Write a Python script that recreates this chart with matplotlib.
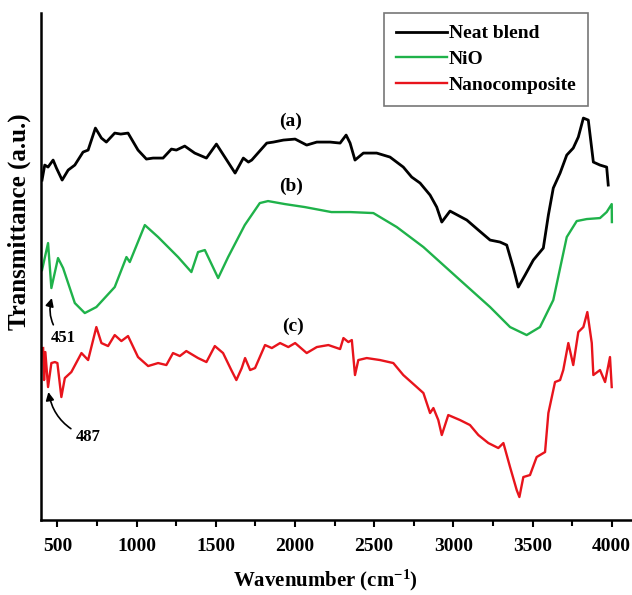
import matplotlib
matplotlib.use('Agg')
import matplotlib.pyplot as plt
from matplotlib.ticker import MultipleLocator

plt.rcParams['font.family'] = ['Liberation Serif', 'DejaVu Serif']
plt.rcParams['font.weight'] = 'bold'
plt.rcParams['mathtext.fontset'] = 'custom'
plt.rcParams['mathtext.rm'] = 'Liberation Serif:bold'
plt.rcParams['mathtext.it'] = 'Liberation Serif:bold'
plt.rcParams['mathtext.bf'] = 'Liberation Serif:bold'
plt.rcParams['mathtext.default'] = 'rm'

# FTIR spectra (wavenumber in cm-1, transmittance in a.u.)
blend_wn = [403, 420, 441, 473, 494, 530, 568, 610, 662, 694, 740, 778, 809, 862, 900, 946,
            1009, 1062, 1104, 1167, 1220, 1251, 1304, 1367, 1441, 1504, 1557, 1622, 1674, 1706,
            1727, 1822, 1864, 1927, 2001, 2074, 2138, 2222, 2285, 2323, 2348, 2379, 2432, 2516,
            2600, 2684, 2737, 2790, 2853, 2895, 2927, 2979, 3085, 3158, 3232, 3295, 3337, 3379,
            3410, 3453, 3505, 3568, 3600, 3631, 3674, 3716, 3757, 3789, 3821, 3852, 3884, 3926,
            3968, 3978]
blend_t = [340, 355, 353, 360, 352, 340, 350, 355, 368, 370, 392, 382, 378, 387, 386, 387,
           370, 361, 362, 362, 371, 370, 374, 367, 362, 376, 363, 347, 362, 358,
           360, 377, 378, 380, 381, 375, 378, 378, 377, 385, 377, 360, 367, 367,
           363, 353, 343, 337, 325, 313, 298, 309, 300, 290, 280, 278, 275, 252,
           233, 245, 260, 272, 305, 332, 347, 365, 372, 383, 402, 400, 358, 355,
           353, 335]

nio_wn = [403, 441, 462, 504, 536, 610, 673, 746, 862, 936, 957, 1052, 1136, 1262, 1346,
          1388, 1431, 1515, 1578, 1683, 1778, 1830, 1936, 2062, 2230, 2348, 2495, 2643, 2811,
          3021, 3232, 3358, 3463, 3547, 3631, 3716, 3779, 3842, 3926, 3968, 4000, 4001]
nio_t = [250, 277, 232, 262, 252, 217, 207, 213, 233, 263, 258, 295, 283, 263, 248,
         268, 270, 242, 263, 295, 317, 319, 316, 313, 308, 308, 307, 293, 273,
         243, 213, 193, 185, 193, 220, 283, 299, 301, 302, 308, 316, 298]

nano_wn = [410, 416, 424, 441, 462, 484, 500, 525, 547, 588, 652, 694, 746, 778, 820, 862,
           904, 946, 1009, 1073, 1136, 1188, 1230, 1273, 1314, 1388, 1441, 1494, 1546, 1598,
           1630, 1664, 1685, 1717, 1748, 1811, 1854, 1906, 1958, 2001, 2074, 2138, 2211, 2285,
           2306, 2337, 2359, 2379, 2400, 2453, 2537, 2621, 2684, 2769, 2811, 2853, 2874, 2905,
           2927, 2968, 3042, 3105, 3158, 3221, 3284, 3316, 3358, 3400, 3417, 3442, 3484, 3526,
           3579, 3600, 3642, 3674, 3694, 3726, 3757, 3789, 3821, 3846, 3874, 3884, 3926, 3958,
           3989, 4000]
nano_t = [172, 140, 168, 133, 157, 158, 157, 123, 142, 148, 167, 160, 193, 177, 174, 185,
          179, 184, 163, 154, 157, 155, 167, 164, 169, 162, 158, 174, 167, 150,
          140, 152, 162, 150, 152, 175, 172, 177, 173, 177, 167, 173, 175, 171,
          182, 178, 180, 145, 160, 162, 160, 157, 145, 133, 127, 107, 112, 100,
          85, 105, 100, 95, 85, 77, 72, 77, 53, 30, 23, 43, 45, 63,
          68, 107, 138, 140, 150, 177, 155, 188, 193, 208, 177, 145, 150, 138,
          163, 133]

labels = ['Neat blend', 'NiO', 'Nanocomposite']
colors = ['black', '#1fb24a', '#e8141c']

fig = plt.figure(figsize=(6.32, 5.95), dpi=100)
ax = fig.add_axes([0.065, 0.126, 0.935, 0.852])

ax.plot(blend_wn, blend_t, color=colors[0], lw=2.0, label=labels[0])
ax.plot(nio_wn, nio_t, color=colors[1], lw=1.7, label=labels[1])
ax.plot(nano_wn, nano_t, color=colors[2], lw=1.7, label=labels[2])

ax.set_xlim(397, 4128)
ax.set_ylim(0, 507)

for s in ['top', 'right']:
    ax.spines[s].set_visible(False)
for s in ['left', 'bottom']:
    ax.spines[s].set_linewidth(1.8)

ax.xaxis.set_major_locator(MultipleLocator(500))
ax.xaxis.set_minor_locator(MultipleLocator(250))
ax.tick_params(axis='x', which='major', direction='out', length=5, width=1.5,
               labelsize=14, pad=8)
ax.tick_params(axis='x', which='minor', direction='out', length=4, width=1.5)
ax.set_yticks([])

ax.set_xlabel('Wavenumber (cm$^{-1}$)', fontsize=15, fontweight='bold')
ax.xaxis.set_label_coords(0.482, -0.094)
ax.set_ylabel('Transmittance (a.u.)', fontsize=18, fontweight='bold')
ax.yaxis.set_label_coords(-0.017, 0.588)

ax.text(1975, 399, '(a)', fontsize=14, fontweight='bold', ha='center', va='center')
ax.text(1975, 334, '(b)', fontsize=14, fontweight='bold', ha='center', va='center')
ax.text(1985, 194, '(c)', fontsize=14, fontweight='bold', ha='center', va='center')

ax.annotate('451', xy=(465, 222), xytext=(536, 182), fontsize=12, fontweight='bold',
            ha='center', va='center',
            arrowprops=dict(arrowstyle='-|>', color='black', lw=1.2,
                            connectionstyle='arc3,rad=-0.3', shrinkB=0))
ax.annotate('487', xy=(443, 128), xytext=(696, 83), fontsize=12, fontweight='bold',
            ha='center', va='center',
            arrowprops=dict(arrowstyle='-|>', color='black', lw=1.2,
                            connectionstyle='arc3,rad=-0.3', shrinkB=0))

leg = ax.legend(loc='upper right', bbox_to_anchor=(0.9255, 1.0), borderaxespad=0,
                fontsize=14, frameon=True, fancybox=False, handlelength=2.6,
                handletextpad=0.1, borderpad=0.6, labelspacing=0.42)
leg.get_frame().set_edgecolor('#555555')
leg.get_frame().set_linewidth(1.2)
for t in leg.get_texts():
    t.set_fontweight('bold')

fig.savefig('out.png', dpi=100)
